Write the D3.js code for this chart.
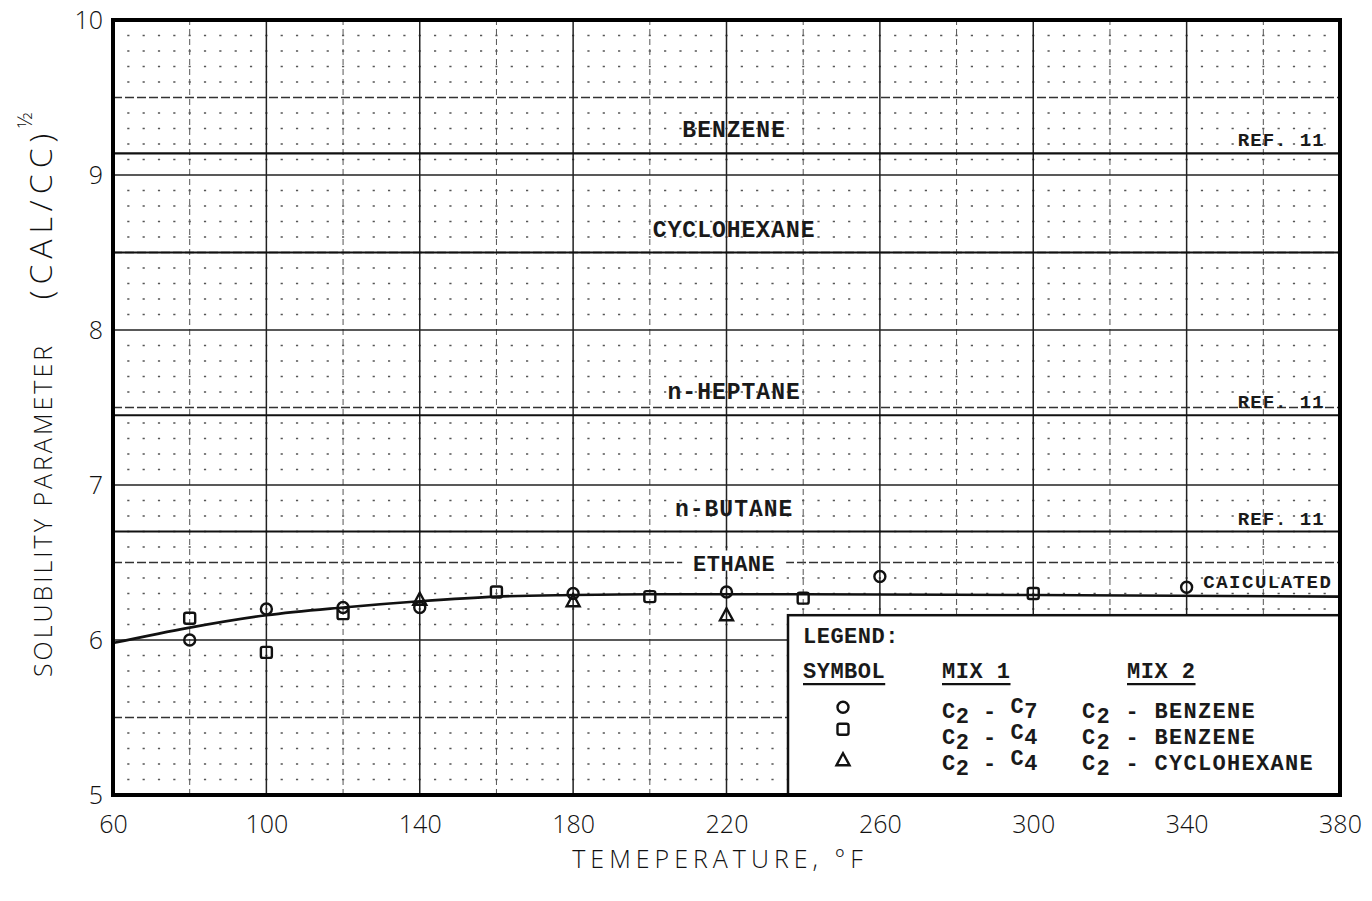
<!DOCTYPE html>
<html>
<head>
<meta charset="utf-8">
<script src="https://cdn.jsdelivr.net/npm/d3@7"></script>
<style>
  body { margin: 0; background: #fff; }
  .tw { font-family: "Liberation Mono", "DejaVu Sans Mono", monospace; font-weight: bold; fill: #1a1a1a; }
  .sans { font-family: "Open Sans", "DejaVu Sans", sans-serif; font-weight: 300; fill: #111; }
</style>
</head>
<body>
<div id="chart"></div>
<script>
// axis ticks
var xTicks = [60, 100, 140, 180, 220, 260, 300, 340, 380];
var yTicks = [5, 6, 7, 8, 9, 10];

// measured points, temperature (F) and solubility parameter
var circleT = [80, 100, 120, 140, 180, 220, 260, 340];
var circleS = [6.00, 6.20, 6.21, 6.21, 6.30, 6.31, 6.41, 6.34];
var squareT = [80, 100, 120, 160, 200, 240, 300];
var squareS = [6.14, 5.92, 6.17, 6.31, 6.28, 6.27, 6.30];
var triangleT = [140, 180, 220];
var triangleS = [6.26, 6.25, 6.16];

// calculated ethane curve
var calcT = [60, 80, 100, 120, 140, 160, 180, 200, 240, 300, 380];
var calcS = [5.98, 6.08, 6.16, 6.21, 6.25, 6.28, 6.29, 6.295, 6.295, 6.29, 6.28];

// pure component lines
var refNames = ["BENZENE", "CYCLOHEXANE", "n-HEPTANE", "n-BUTANE"];
var refValues = [9.14, 8.5, 7.45, 6.70];
var refSource = ["REF. 11", "", "REF. 11", "REF. 11"];

// legend table
var legendSymbols = ["circle", "square", "triangle"];
var legendMix1 = [["C", "2", " - ", "C", "7"], ["C", "2", " - ", "C", "4"], ["C", "2", " - ", "C", "4"]];
var legendMix2 = ["BENZENE", "BENZENE", "CYCLOHEXANE"];

var width = 1372, height = 901;
var padding = {top: 20, bottom: 106, left: 113, right: 32};

var svg = d3.select("#chart").append("svg")
    .attr("width", width)
    .attr("height", height);

var x = d3.scaleLinear().domain([60, 380]).range([padding.left, width - padding.right]);
var y = d3.scaleLinear().domain([5, 10]).range([height - padding.bottom, padding.top]);

var grid = svg.append("g");

// fine dotted grid: rows every 0.1, dots on 4 F columns
var step = x(64) - x(60);
d3.range(5.1, 10, 0.1).forEach(function(v) {
    if (Math.abs(v * 2 - Math.round(v * 2)) < 1e-6) return;
    grid.append("line")
        .attr("x1", x(60)).attr("x2", x(380))
        .attr("y1", y(v)).attr("y2", y(v))
        .attr("stroke", "#555").attr("stroke-width", 1.6)
        .attr("stroke-dasharray", "2.2," + (step - 2.2))
        .attr("stroke-dashoffset", 1.1 - step);
});

// half-unit dashed rows
d3.range(5.5, 10, 1).forEach(function(v) {
    grid.append("line")
        .attr("x1", x(60)).attr("x2", x(380))
        .attr("y1", y(v)).attr("y2", y(v))
        .attr("stroke", "#333").attr("stroke-width", 1.4)
        .attr("stroke-dasharray", "9,3");
});

// 20 F dashed columns
d3.range(80, 380, 40).forEach(function(v) {
    grid.append("line")
        .attr("x1", x(v)).attr("x2", x(v))
        .attr("y1", y(5)).attr("y2", y(10))
        .attr("stroke", "#555").attr("stroke-width", 1)
        .attr("stroke-dasharray", "6,4");
});

// 40 F solid columns and unit rows
d3.range(100, 380, 40).forEach(function(v) {
    grid.append("line")
        .attr("x1", x(v)).attr("x2", x(v))
        .attr("y1", y(5)).attr("y2", y(10))
        .attr("stroke", "#222").attr("stroke-width", 1.5);
});
d3.range(6, 10, 1).forEach(function(v) {
    grid.append("line")
        .attr("x1", x(60)).attr("x2", x(380))
        .attr("y1", y(v)).attr("y2", y(v))
        .attr("stroke", "#222").attr("stroke-width", 1.6);
});

// pure component lines with labels
refValues.forEach(function(v, i) {
    svg.append("line")
        .attr("x1", x(60)).attr("x2", x(380))
        .attr("y1", y(v)).attr("y2", y(v))
        .attr("stroke", "#111").attr("stroke-width", 2.2);
    svg.append("text")
        .attr("class", "tw")
        .attr("x", x(222)).attr("y", y(v) - 16)
        .attr("text-anchor", "middle")
        .attr("font-size", "23px")
        .attr("letter-spacing", "1px")
        .text(refNames[i]);
    if (refSource[i]) {
        svg.append("text")
            .attr("class", "tw")
            .attr("x", x(376)).attr("y", y(v) - 7)
            .attr("text-anchor", "end")
            .attr("font-size", "19px")
            .attr("letter-spacing", "1px")
            .text(refSource[i]);
    }
});

// ethane label sits on the 6.5 row
var eth = svg.append("g");
eth.append("rect")
    .attr("x", x(222) - 52).attr("y", y(6.5) - 12)
    .attr("width", 104).attr("height", 20)
    .attr("fill", "#fff");
eth.append("text")
    .attr("class", "tw")
    .attr("x", x(222)).attr("y", y(6.5) + 8)
    .attr("text-anchor", "middle")
    .attr("font-size", "22px")
    .attr("letter-spacing", "0.5px")
    .text("ETHANE");

// calculated curve
var line = d3.line()
    .x(function(d) { return x(d[0]); })
    .y(function(d) { return y(d[1]); })
    .curve(d3.curveMonotoneX);
svg.append("path")
    .datum(calcT.map(function(t, i) { return [t, calcS[i]]; }))
    .attr("d", line)
    .attr("fill", "none")
    .attr("stroke", "#111")
    .attr("stroke-width", 2.6);

svg.append("text")
    .attr("class", "tw")
    .attr("x", x(378)).attr("y", y(6.29) - 7)
    .attr("text-anchor", "end")
    .attr("font-size", "19px")
    .attr("letter-spacing", "1.5px")
    .text("CAICULATED");

// legend box
var lx = 788, ly = y(6.16);
svg.append("rect")
    .attr("x", lx).attr("y", ly)
    .attr("width", x(380) - lx).attr("height", y(5) - ly)
    .attr("fill", "#fff")
    .attr("stroke", "#111").attr("stroke-width", 2.5);

// symbol drawing
function drawSymbol(g, kind, cx, cy) {
    if (kind === "circle") {
        g.append("circle").attr("cx", cx).attr("cy", cy).attr("r", 5.5);
    } else if (kind === "square") {
        g.append("rect").attr("x", cx - 5.5).attr("y", cy - 5.5)
            .attr("width", 11).attr("height", 11).attr("rx", 2);
    } else {
        g.append("path").attr("d", "M" + cx + "," + (cy - 7) + "L" + (cx + 6.5) + "," + (cy + 5) + "L" + (cx - 6.5) + "," + (cy + 5) + "Z");
    }
}

var marks = svg.append("g")
    .attr("fill", "none").attr("stroke", "#111").attr("stroke-width", 2.4);
circleT.forEach(function(t, i) { drawSymbol(marks, "circle", x(t), y(circleS[i])); });
squareT.forEach(function(t, i) { drawSymbol(marks, "square", x(t), y(squareS[i])); });
triangleT.forEach(function(t, i) { drawSymbol(marks, "triangle", x(t), y(triangleS[i])); });

// legend text
var lg = svg.append("g");
function twText(tx, ty, txt, size, spacing) {
    return lg.append("text").attr("class", "tw")
        .attr("x", tx).attr("y", ty)
        .attr("font-size", size + "px")
        .attr("letter-spacing", spacing + "px")
        .text(txt);
}
twText(803, ly + 28, "LEGEND:", 22, 0.5);
var heads = [[803, "SYMBOL"], [942, "MIX 1"], [1127, "MIX 2"]];
heads.forEach(function(h) {
    var t = twText(h[0], ly + 63, h[1], 22, 0.5);
    var w = t.node().getComputedTextLength();
    lg.append("line")
        .attr("x1", h[0]).attr("x2", h[0] + w)
        .attr("y1", ly + 69).attr("y2", ly + 69)
        .attr("stroke", "#111").attr("stroke-width", 2.2);
});

var legendMarks = lg.append("g")
    .attr("fill", "none").attr("stroke", "#111").attr("stroke-width", 2.4);
legendSymbols.forEach(function(kind, i) {
    var ry = ly + 103 + i * 26;
    drawSymbol(legendMarks, kind, 843, ry - 11 + (i === 2 ? 1 : -i * 4));

    var t1 = lg.append("text").attr("class", "tw")
        .attr("x", 942).attr("y", ry)
        .attr("font-size", "22px").attr("letter-spacing", "0.5px");
    legendMix1[i].forEach(function(part, k) {
        var sub = (k === 1 || k === 4);
        t1.append("tspan")
            .attr("dy", sub ? 5 : (k === 0 ? 0 : -5))
            .text(part);
    });

    var t2 = lg.append("text").attr("class", "tw")
        .attr("x", 1082).attr("y", ry)
        .attr("font-size", "22px").attr("letter-spacing", "1.3px");
    t2.append("tspan").text("C");
    t2.append("tspan").attr("dy", 5).text("2");
    t2.append("tspan").attr("dy", -5).text(" - " + legendMix2[i]);
});

// frame
svg.append("rect")
    .attr("x", x(60)).attr("y", y(10))
    .attr("width", x(380) - x(60)).attr("height", y(5) - y(10))
    .attr("fill", "none")
    .attr("stroke", "#000").attr("stroke-width", 4);

// axes
var xAxis = d3.axisBottom(x).tickValues(xTicks).tickSize(0).tickPadding(20);
var yAxis = d3.axisLeft(y).tickValues(yTicks).tickFormat(d3.format("d")).tickSize(0).tickPadding(10);

var gx = svg.append("g")
    .attr("transform", "translate(0," + y(5) + ")")
    .call(xAxis);
var gy = svg.append("g")
    .attr("transform", "translate(" + x(60) + ",0)")
    .call(yAxis);
[gx, gy].forEach(function(g) {
    g.select(".domain").remove();
    g.selectAll("text")
        .attr("class", "sans")
        .attr("font-size", "25px")
        .attr("fill", "#111");
});

svg.append("text")
    .attr("class", "sans")
    .attr("x", 720).attr("y", 868)
    .attr("text-anchor", "middle")
    .attr("font-size", "25px")
    .attr("letter-spacing", "5px")
    .text("TEMEPERATURE, °F");

var yt = svg.append("g").attr("transform", "translate(52,510) rotate(-90)");
yt.append("text")
    .attr("class", "sans")
    .attr("x", 0).attr("y", 0)
    .attr("text-anchor", "middle")
    .attr("font-size", "25px")
    .attr("letter-spacing", "3px")
    .text("SOLUBILITY PARAMETER");
var yt2 = yt.append("text")
    .attr("class", "sans")
    .attr("x", 304).attr("y", 0)
    .attr("text-anchor", "middle")
    .attr("font-size", "32px")
    .attr("letter-spacing", "6px");
yt2.append("tspan").text("(CAL/CC)");
yt2.append("tspan").attr("dy", -20).attr("font-size", "20px").attr("letter-spacing", "0px").text("½");
</script>
</body>
</html>
